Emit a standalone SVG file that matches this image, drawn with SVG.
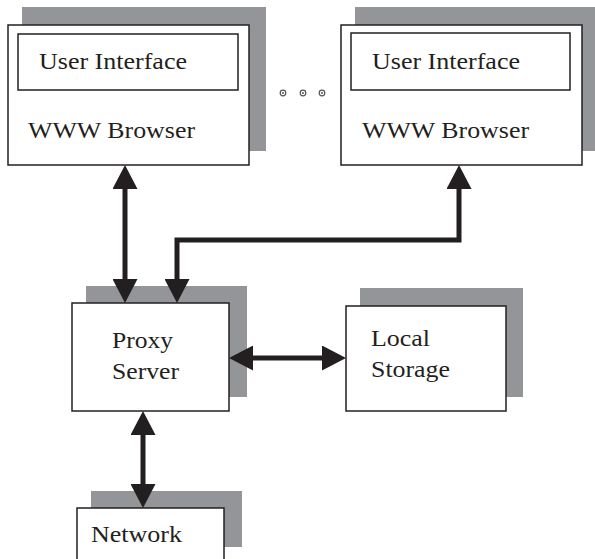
<svg xmlns="http://www.w3.org/2000/svg" width="595" height="559" viewBox="0 0 595 559">
  <defs>
    <style>
      .shadow { fill: #939598; }
      .box { fill: #ffffff; stroke: #231f20; stroke-width: 1.5; }
      .label { font-family: "Liberation Serif", "Times New Roman", serif; font-size: 24px; fill: #231f20; }
      .link { fill: none; stroke: #231f20; stroke-width: 5; stroke-linejoin: miter; }
      .dot { fill: none; stroke: #555; stroke-width: 1.2; }
    </style>
    <marker id="head" viewBox="0 0 24 25" markerUnits="userSpaceOnUse" markerWidth="24" markerHeight="25" refX="4" refY="12.5" orient="auto-start-reverse">
      <path d="M0,0 L24,12.5 L0,25 Z" fill="#231f20"/>
    </marker>
  </defs>

  <rect width="595" height="559" fill="#ffffff"/>

  <g id="browser-left">
    <rect class="shadow" x="22" y="7" width="244" height="144"/>
    <rect class="box" x="8" y="25" width="241" height="140"/>
    <rect class="box" x="18" y="34" width="220" height="56"/>
    <text class="label" x="39" y="69" textLength="148" lengthAdjust="spacingAndGlyphs">User Interface</text>
    <text class="label" x="28" y="138" textLength="167" lengthAdjust="spacingAndGlyphs">WWW Browser</text>
  </g>

  <g id="ellipsis">
    <circle class="dot" cx="283" cy="93" r="2.8"/>
    <circle cx="283" cy="93" r="1" fill="#555"/>
    <circle class="dot" cx="303" cy="93" r="2.8"/>
    <circle cx="303" cy="93" r="1" fill="#555"/>
    <circle class="dot" cx="322" cy="93" r="2.8"/>
    <circle cx="322" cy="93" r="1" fill="#555"/>
  </g>

  <g id="browser-right">
    <rect class="shadow" x="355" y="7" width="240" height="144"/>
    <rect class="box" x="341" y="25" width="241" height="140"/>
    <rect class="box" x="351" y="33" width="219" height="57"/>
    <text class="label" x="372" y="69" textLength="148" lengthAdjust="spacingAndGlyphs">User Interface</text>
    <text class="label" x="362" y="138" textLength="167" lengthAdjust="spacingAndGlyphs">WWW Browser</text>
  </g>

  <g id="proxy-server">
    <rect class="shadow" x="86" y="286" width="161" height="111"/>
    <rect class="box" x="72" y="303" width="157" height="108"/>
    <text class="label" x="112" y="348" textLength="61" lengthAdjust="spacingAndGlyphs">Proxy</text>
    <text class="label" x="112" y="379" textLength="67" lengthAdjust="spacingAndGlyphs">Server</text>
  </g>

  <g id="local-storage">
    <rect class="shadow" x="360" y="288" width="163" height="109"/>
    <rect class="box" x="346" y="306" width="160" height="105"/>
    <text class="label" x="371" y="346" textLength="59" lengthAdjust="spacingAndGlyphs">Local</text>
    <text class="label" x="371" y="377" textLength="79" lengthAdjust="spacingAndGlyphs">Storage</text>
  </g>

  <g id="network">
    <rect class="shadow" x="91" y="491" width="151" height="56"/>
    <rect class="box" x="77" y="508" width="147" height="60"/>
    <text class="label" x="91" y="542" textLength="91" lengthAdjust="spacingAndGlyphs">Network</text>
  </g>

  <g id="connectors">
    <path class="link" d="M125,185 V283" marker-start="url(#head)" marker-end="url(#head)"/>
    <path class="link" d="M459,185 V240 H177 V283" marker-start="url(#head)" marker-end="url(#head)"/>
    <path class="link" d="M249,358 H326" marker-start="url(#head)" marker-end="url(#head)"/>
    <path class="link" d="M143,431 V488" marker-start="url(#head)" marker-end="url(#head)"/>
  </g>
</svg>
